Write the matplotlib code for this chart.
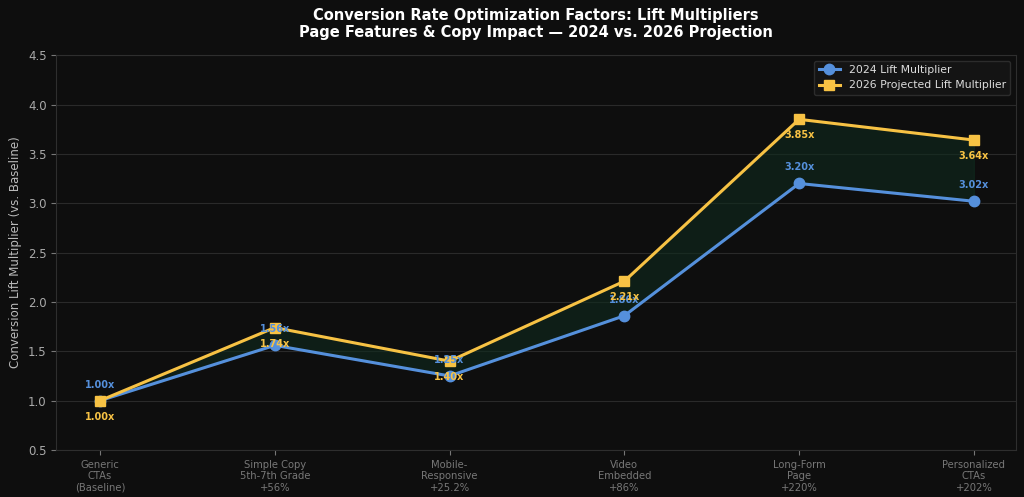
import numpy as np
import matplotlib
matplotlib.use("Agg")
import matplotlib.pyplot as plt

# data
categories = ["Generic\nCTAs\n(Baseline)", "Simple Copy\n5th-7th Grade\n+56%",
              "Mobile-\nResponsive\n+25.2%", "Video\nEmbedded\n+86%",
              "Long-Form\nPage\n+220%", "Personalized\nCTAs\n+202%"]
lift_2024 = [1.00, 1.56, 1.25, 1.86, 3.20, 3.02]
lift_2026 = [1.00, 1.74, 1.40, 2.21, 3.85, 3.64]

bg = "#0e0e0e"
blue = "#5590dc"
yellow = "#f7c244"

fig, ax = plt.subplots(figsize=(10.24, 4.97), dpi=100)
fig.patch.set_facecolor(bg)
ax.set_facecolor(bg)
plt.subplots_adjust(left=0.055, right=0.992, top=0.889, bottom=0.0946)

x = np.arange(len(categories))
ax.fill_between(x, lift_2024, lift_2026, color="#0f2a1e", alpha=0.6, zorder=1)
ax.plot(x, lift_2024, color=blue, lw=2.2, marker="o", ms=7.5, label="2024 Lift Multiplier", zorder=3)
ax.plot(x, lift_2026, color=yellow, lw=2.2, marker="s", ms=7, label="2026 Projected Lift Multiplier", zorder=3)

for xi, v in zip(x, lift_2024):
    ax.annotate("{:.2f}x".format(v), (xi, v), xytext=(0, 8), textcoords="offset points",
                ha="center", va="bottom", color=blue, fontsize=7, fontweight="bold", zorder=4)
for xi, v in zip(x, lift_2026):
    ax.annotate("{:.2f}x".format(v), (xi, v), xytext=(0, -8), textcoords="offset points",
                ha="center", va="top", color=yellow, fontsize=7, fontweight="bold", zorder=4)

ax.set_xticks(x)
ax.set_xticklabels(categories, fontsize=7.2, color="#8a8a8a")
ax.set_xlim(-0.25, 5.24)
ax.set_ylim(0.5, 4.5)
ax.set_yticks(np.arange(0.5, 4.51, 0.5))
ax.tick_params(axis="y", colors="#777777", labelcolor="#aaaaaa", labelsize=8.5)
ax.tick_params(axis="x", colors="#777777")
ax.set_ylabel("Conversion Lift Multiplier (vs. Baseline)", color="#bbbbbb", fontsize=8.5)
ax.grid(axis="y", color="#2a2a2a", lw=0.8)
ax.set_axisbelow(True)
for s in ax.spines.values():
    s.set_color("#2e2e2e")

ax.set_title("Conversion Rate Optimization Factors: Lift Multipliers\nPage Features & Copy Impact \u2014 2024 vs. 2026 Projection",
             color="white", fontsize=10.5, fontweight="bold", pad=13)

leg = ax.legend(loc="upper right", fontsize=7.8, facecolor="#161616", edgecolor="#333333", labelcolor="#dddddd")

plt.savefig("out.png", dpi=100, facecolor=bg)
